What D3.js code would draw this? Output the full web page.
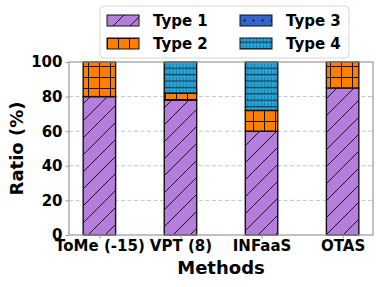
<!DOCTYPE html>
<html>
<head>
<meta charset="utf-8">
<script src="https://cdn.jsdelivr.net/npm/d3@7"></script>
<style>
  body { margin: 0; background: #fff; }
  text { font-family: "DejaVu Sans", sans-serif; font-weight: bold; }
</style>
</head>
<body>
<div id="chart"></div>
<script>
// data
var methods = ["ToMe (-15)", "VPT (8)", "INFaaS", "OTAS"];
var type1 = [80, 78, 60, 85];
var type2 = [20, 4, 12, 15];
var type3 = [0, 0, 0, 0];
var type4 = [0, 18, 28, 0];
var typeNames = ["Type 1", "Type 2", "Type 3", "Type 4"];
var yTicks = [0, 20, 40, 60, 80, 100];

var width = 382, height = 287;
// plot box (window.top is reserved, so use other names)
var pLeft = 69, pRight = 373, pTop = 62, pBottom = 235;

var svg = d3.select("#chart").append("svg")
    .attr("width", width)
    .attr("height", height);

// hatch patterns
var defs = svg.append("defs");

var p1 = defs.append("pattern").attr("id", "h1")
    .attr("patternUnits", "userSpaceOnUse").attr("width", 17).attr("height", 17);
p1.append("rect").attr("width", 17).attr("height", 17).attr("fill", "#b57edc");
p1.append("path").attr("d", "M0,17 L17,0 M-2,2 L2,-2 M15,19 L19,15")
    .attr("stroke", "#111").attr("stroke-width", 1);

var p2 = defs.append("pattern").attr("id", "h2")
    .attr("patternUnits", "userSpaceOnUse").attr("width", 11).attr("height", 11);
p2.append("rect").attr("width", 11).attr("height", 11).attr("fill", "#ff8000");
p2.append("path").attr("d", "M0,0.5 H11 M0.5,0 V11")
    .attr("stroke", "#111").attr("stroke-width", 1);

var p3 = defs.append("pattern").attr("id", "h3")
    .attr("patternUnits", "userSpaceOnUse").attr("width", 9).attr("height", 11);
p3.append("rect").attr("width", 9).attr("height", 11).attr("fill", "#3366cc");
p3.append("circle").attr("cx", 4.5).attr("cy", 5.5).attr("r", 1.1).attr("fill", "#111");

var p4 = defs.append("pattern").attr("id", "h4")
    .attr("patternUnits", "userSpaceOnUse").attr("width", 3.4).attr("height", 6.4);
p4.append("rect").attr("width", 3.4).attr("height", 6.4).attr("fill", "#2aa6db");
p4.append("rect").attr("x", 0).attr("y", 3.6).attr("width", 3.4).attr("height", 1.4).attr("fill", "#12465e");
p4.append("rect").attr("x", 2.6).attr("y", 0).attr("width", 0.8).attr("height", 3.6).attr("fill", "#1a6f94");

var fills = ["url(#h1)", "url(#h2)", "url(#h3)", "url(#h4)"];

// scales
var x = d3.scaleLinear().domain([-0.375, 3.375]).range([pLeft, pRight]);
var y = d3.scaleLinear().domain([0, 100]).range([pBottom, pTop]);
var barW = 0.4;

// grid
svg.append("g").selectAll("line")
    .data(yTicks.filter(function(d) { return d > 0 && d < 100; }))
    .enter().append("line")
    .attr("x1", pLeft).attr("x2", pRight)
    .attr("y1", function(d) { return y(d); })
    .attr("y2", function(d) { return y(d); })
    .attr("stroke", "#c4c4c4")
    .attr("stroke-width", 1)
    .attr("stroke-dasharray", "4,2.5");

// stacked bars
var rows = methods.map(function(m, i) {
  return { method: i, t1: type1[i], t2: type2[i], t3: type3[i], t4: type4[i] };
});
var stack = d3.stack().keys(["t1", "t2", "t3", "t4"]);
var series = stack(rows);

svg.append("g").selectAll("g")
    .data(series)
    .enter().append("g")
    .attr("fill", function(d, i) { return fills[i]; })
    .selectAll("rect")
    .data(function(d) { return d.filter(function(s) { return s[1] - s[0] > 0; }); })
    .enter().append("rect")
    .attr("x", function(d) { return x(d.data.method - barW / 2); })
    .attr("width", function(d) { return x(barW) - x(0); })
    .attr("y", function(d) { return y(d[1]); })
    .attr("height", function(d) { return y(d[0]) - y(d[1]); })
    .attr("stroke", "#111")
    .attr("stroke-width", 1.4);

// axes
var yAxis = d3.axisLeft(y).tickValues(yTicks).tickSize(3.5).tickPadding(3);
var gy = svg.append("g").attr("transform", "translate(" + pLeft + ",0)").call(yAxis);
gy.select(".domain").remove();
gy.selectAll("line").attr("stroke", "#999");
gy.selectAll("text").attr("font-size", 15).attr("fill", "#000")
    .attr("font-family", "DejaVu Sans").attr("font-weight", "bold");

var xAxis = d3.axisBottom(x).tickValues([0, 1, 2, 3])
    .tickFormat(function(d) { return methods[d]; }).tickSize(3.5).tickPadding(2);
var gx = svg.append("g").attr("transform", "translate(0," + pBottom + ")").call(xAxis);
gx.select(".domain").remove();
gx.selectAll("line").attr("stroke", "#999");
gx.selectAll("text").attr("font-size", 15).attr("fill", "#000")
    .attr("font-family", "DejaVu Sans").attr("font-weight", "bold");

// frame
svg.append("rect")
    .attr("x", pLeft).attr("y", pTop)
    .attr("width", pRight - pLeft).attr("height", pBottom - pTop)
    .attr("fill", "none").attr("stroke", "#999").attr("stroke-width", 1.2);

// axis titles
svg.append("text")
    .attr("x", (pLeft + pRight) / 2).attr("y", 274)
    .attr("text-anchor", "middle").attr("font-size", 18)
    .text("Methods");
svg.append("text")
    .attr("transform", "translate(23," + (pTop + pBottom) / 2 + ") rotate(-90)")
    .attr("text-anchor", "middle").attr("font-size", 18)
    .text("Ratio (%)");

// legend
var lg = svg.append("g");
lg.append("rect")
    .attr("x", 100).attr("y", 6).attr("width", 249).attr("height", 52)
    .attr("rx", 4).attr("fill", "#fff").attr("fill-opacity", 0.85)
    .attr("stroke", "#d6d6d6").attr("stroke-width", 1);
var items = lg.selectAll("g.item")
    .data(typeNames)
    .enter().append("g")
    .attr("class", "item")
    .attr("transform", function(d, i) {
      var col = Math.floor(i / 2), row = i % 2;
      return "translate(" + (107 + col * 133) + "," + (15 + row * 23) + ")";
    });
items.append("rect")
    .attr("width", 32).attr("height", 11)
    .attr("fill", function(d, i) { return fills[i]; })
    .attr("stroke", "#111").attr("stroke-width", 1);
items.append("text")
    .attr("x", 46).attr("y", 11)
    .attr("font-size", 15)
    .text(function(d) { return d; });
</script>
</body>
</html>
